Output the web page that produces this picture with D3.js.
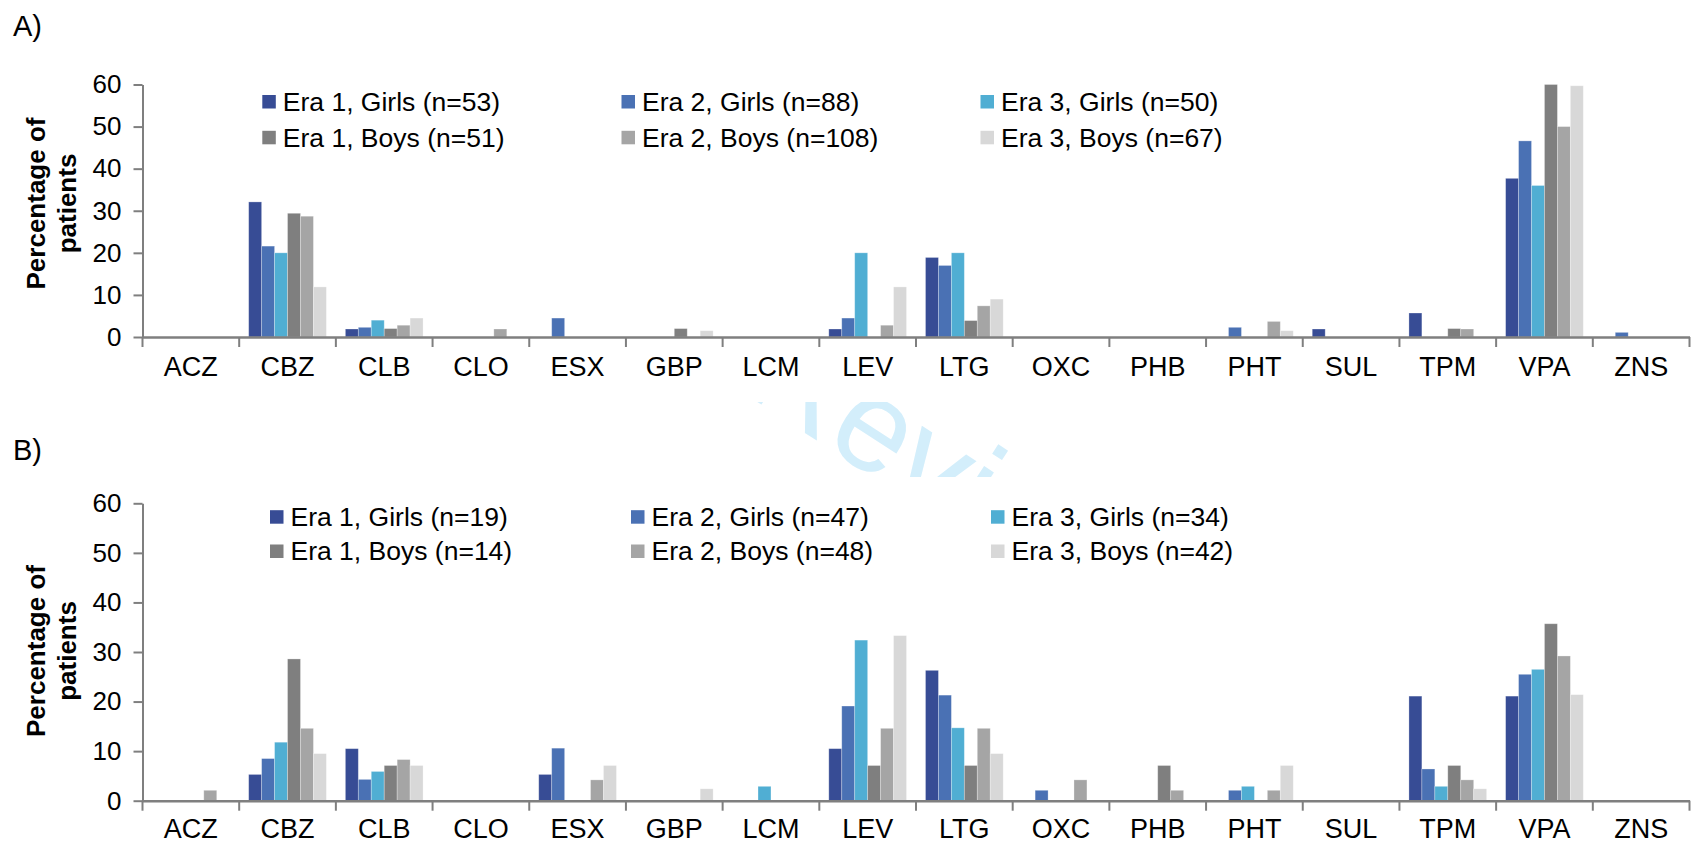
<!DOCTYPE html>
<html>
<head>
<meta charset="utf-8">
<script src="https://cdn.jsdelivr.net/npm/d3@7"></script>
<style>
  html, body { margin: 0; padding: 0; background: #fff; }
  svg { display: block; font-family: Arial, "Liberation Sans", Helvetica, sans-serif; }
</style>
</head>
<body>
<svg id="chart" width="1701" height="851"></svg>
<script>
// Antiepileptic drugs on the category axis
const drugs = ["ACZ", "CBZ", "CLB", "CLO", "ESX", "GBP", "LCM", "LEV", "LTG", "OXC", "PHB", "PHT", "SUL", "TPM", "VPA", "ZNS"];
const yTicks = [0, 10, 20, 30, 40, 50, 60];
const seriesColors = ["#374C95", "#4A71B4", "#50AED3", "#7F7F7F", "#A5A5A5", "#D8D8D8"];

// Panel A legend labels and percentages
const labelsA = ["Era 1, Girls (n=53)", "Era 2, Girls (n=88)", "Era 3, Girls (n=50)",
                 "Era 1, Boys (n=51)", "Era 2, Boys (n=108)", "Era 3, Boys (n=67)"];
const era1GirlsA = [0, 32.1, 1.9, 0, 0, 0, 0, 1.9, 18.9, 0, 0, 0, 1.9, 5.7, 37.7, 0];
const era2GirlsA = [0, 21.6, 2.3, 0, 4.5, 0, 0, 4.5, 17.0, 0, 0, 2.3, 0, 0, 46.6, 1.1];
const era3GirlsA = [0, 20.0, 4.0, 0, 0, 0, 0, 20.0, 20.0, 0, 0, 0, 0, 0, 36.0, 0];
const era1BoysA  = [0, 29.4, 2.0, 0, 0, 2.0, 0, 0, 3.9, 0, 0, 0, 0, 2.0, 60.0, 0];
const era2BoysA  = [0, 28.7, 2.8, 1.9, 0, 0, 0, 2.8, 7.4, 0, 0, 3.7, 0, 1.9, 50.0, 0];
const era3BoysA  = [0, 11.9, 4.5, 0, 0, 1.5, 0, 11.9, 9.0, 0, 0, 1.5, 0, 0, 59.7, 0];

// Panel B legend labels and percentages
const labelsB = ["Era 1, Girls (n=19)", "Era 2, Girls (n=47)", "Era 3, Girls (n=34)",
                 "Era 1, Boys (n=14)", "Era 2, Boys (n=48)", "Era 3, Boys (n=42)"];
const era1GirlsB = [0, 5.3, 10.5, 0, 5.3, 0, 0, 10.5, 26.3, 0, 0, 0, 0, 21.1, 21.1, 0];
const era2GirlsB = [0, 8.5, 4.3, 0, 10.6, 0, 0, 19.1, 21.3, 2.1, 0, 2.1, 0, 6.4, 25.5, 0];
const era3GirlsB = [0, 11.8, 5.9, 0, 0, 0, 2.9, 32.4, 14.7, 0, 0, 2.9, 0, 2.9, 26.5, 0];
const era1BoysB  = [0, 28.6, 7.1, 0, 0, 0, 0, 7.1, 7.1, 0, 7.1, 0, 0, 7.1, 35.7, 0];
const era2BoysB  = [2.1, 14.6, 8.3, 0, 4.2, 0, 0, 14.6, 14.6, 4.2, 2.1, 2.1, 0, 4.2, 29.2, 0];
const era3BoysB  = [0, 9.5, 7.1, 0, 7.1, 2.4, 0, 33.3, 9.5, 0, 0, 7.1, 0, 2.4, 21.4, 0];

const svg = d3.select("#chart");
const AXIS = "#7F7F7F";
const FONT = 26;

// Faint watermark, only visible in the strip between the two panels
const wmClip = svg.append("defs").append("clipPath").attr("id", "wmband");
wmClip.append("rect").attr("x", 0).attr("y", 402).attr("width", 1701).attr("height", 75);
svg.append("g").attr("clip-path", "url(#wmband)")
  .append("text")
  .attr("transform", "translate(742,392) rotate(33)")
  .attr("font-size", 132)
  .attr("fill", "#D3EEFB")
  .text("Review");

function drawPanel(opts) {
  const g = svg.append("g");
  const x = d3.scaleBand().domain(drugs).range([142.5, 1689.5]).padding(0);
  const keys = d3.range(opts.series.length);
  const xs = d3.scaleBand().domain(keys).range([0, x.bandwidth()]).paddingInner(0).paddingOuter(0.733);
  const y = d3.scaleLinear().domain([0, 60]).range([opts.bottom, opts.top]).clamp(true);

  // bars
  opts.series.forEach((vals, si) => {
    g.append("g").selectAll("rect")
      .data(drugs.map((d, i) => ({ drug: d, v: vals[i] })).filter(d => d.v > 0))
      .join("rect")
      .attr("x", d => x(d.drug) + xs(si))
      .attr("width", xs.bandwidth())
      .attr("y", d => y(d.v))
      .attr("height", d => y(0) - y(d.v))
      .attr("fill", seriesColors[si])
      .attr("stroke", "#ffffff")
      .attr("stroke-opacity", 0.35)
      .attr("stroke-width", 0.8);
  });

  // value axis
  const ya = g.append("g")
    .attr("transform", `translate(${x.range()[0]},0)`)
    .call(d3.axisLeft(y).tickValues(yTicks).tickSize(9).tickSizeOuter(0).tickPadding(12));
  ya.select(".domain").attr("stroke", AXIS).attr("stroke-width", 2);
  ya.selectAll(".tick line").attr("stroke", AXIS).attr("stroke-width", 2);
  ya.selectAll(".tick text").attr("font-size", FONT).attr("fill", "#000").attr("font-family", null);

  // category axis: labels centred, tick marks on category boundaries
  const xa = g.append("g")
    .attr("transform", `translate(0,${y(0)})`)
    .call(d3.axisBottom(x).tickSize(0).tickSizeOuter(0));
  xa.select(".domain").attr("stroke", AXIS).attr("stroke-width", 2.4);
  xa.selectAll(".tick text")
    .attr("font-size", 27).attr("fill", "#000").attr("font-family", null)
    .attr("y", opts.labelOffset).attr("dy", 0);
  const bounds = drugs.map(d => x(d)).concat([x.range()[1]]);
  xa.append("g").selectAll("line").data(bounds).join("line")
    .attr("x1", d => d).attr("x2", d => d)
    .attr("y1", 0).attr("y2", 10)
    .attr("stroke", AXIS).attr("stroke-width", 2);

  // axis title
  const t = g.append("text")
    .attr("transform", `translate(45,${opts.titleY}) rotate(-90)`)
    .attr("text-anchor", "middle")
    .attr("font-size", FONT).attr("font-weight", "bold").attr("fill", "#000");
  t.append("tspan").attr("x", 0).attr("y", 0).text("Percentage of");
  t.append("tspan").attr("x", 0).attr("y", 31).text("patients");

  // legend, three columns by two rows
  const lg = g.append("g");
  opts.labels.forEach((lab, i) => {
    const cx = opts.legendX[i % 3];
    const cy = opts.legendY[Math.floor(i / 3)];
    lg.append("rect").attr("x", cx).attr("y", cy - 6.5).attr("width", 13.5).attr("height", 13.5)
      .attr("fill", seriesColors[i]);
    lg.append("text").attr("x", cx + 20.5).attr("y", cy).attr("dy", "0.35em")
      .attr("font-size", 26.5).attr("fill", "#000").text(lab);
  });

  // panel letter
  g.append("text").attr("x", 13).attr("y", opts.letterY)
    .attr("font-size", 29).attr("fill", "#000").text(opts.letter);
}

drawPanel({
  letter: "A)", letterY: 36,
  top: 84.5, bottom: 337,
  labelOffset: 39, titleY: 203.5,
  labels: labelsA,
  series: [era1GirlsA, era2GirlsA, era3GirlsA, era1BoysA, era2BoysA, era3BoysA],
  legendX: [262.3, 621.5, 980.5], legendY: [101.5, 137.3]
});

drawPanel({
  letter: "B)", letterY: 460,
  top: 503.3, bottom: 800.7,
  labelOffset: 37, titleY: 651,
  labels: labelsB,
  series: [era1GirlsB, era2GirlsB, era3GirlsB, era1BoysB, era2BoysB, era3BoysB],
  legendX: [270, 631, 991], legendY: [516.7, 551]
});
</script>
</body>
</html>
